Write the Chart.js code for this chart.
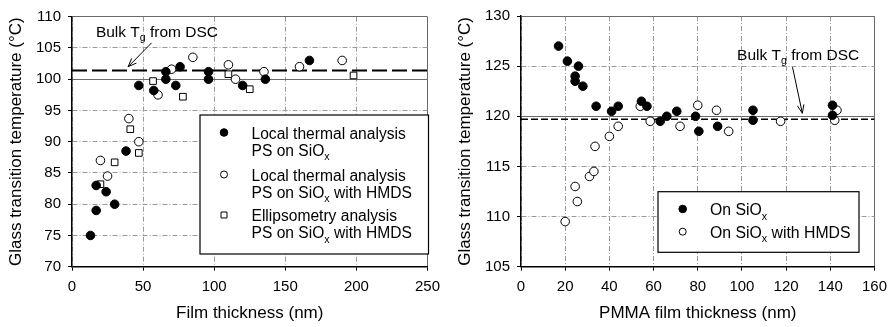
<!DOCTYPE html>
<html>
<head>
<meta charset="utf-8">
<script src="https://cdn.jsdelivr.net/npm/chart.js@4.4.1/dist/chart.umd.min.js"></script>
<style>
  html, body { margin: 0; padding: 0; background: #fff; }
  #wrap { position: relative; width: 894px; height: 327px; }
  .panel { position: absolute; top: 0; width: 447px; height: 327px; }
</style>
</head>
<body>
<div id="wrap">
  <div class="panel" style="left:0"><canvas id="ps" width="447" height="327"></canvas></div>
  <div class="panel" style="left:447px"><canvas id="pmma" width="447" height="327"></canvas></div>
</div>
<script>
// ---- PS films: glass transition vs film thickness ----
const psLocalBareX = [13, 17, 17, 24, 30, 38, 47, 57.5, 66, 66, 73, 76, 96, 96, 120, 136, 167];
const psLocalBareY = [75, 79, 83, 82, 80, 88.5, 99, 98.2, 101.2, 100, 99, 102, 101.2, 100, 99, 100, 103];
const psLocalHmdsX = [20, 25, 40, 47, 60.5, 70, 85, 110, 115, 135, 160, 190];
const psLocalHmdsY = [87, 84.5, 93.7, 90, 97.5, 101.6, 103.5, 102.3, 100, 101.2, 102, 103];
const psEllipsX = [20, 30, 41, 47, 57, 78, 110, 125, 198];
const psEllipsY = [83.2, 86.7, 92, 88.2, 99.7, 97.2, 100.8, 98.4, 100.6];
const psBulkTg = 101.4;
const psXTicks = [0, 50, 100, 150, 200, 250];
const psYTicks = [70, 75, 80, 85, 90, 95, 100, 105, 110];

// ---- PMMA films: glass transition vs film thickness ----
const pmmaBareX = [17, 21, 24.5, 24.5, 26, 28, 34, 41, 44, 54.5, 57, 63, 66, 70.5, 79, 80.5, 89, 105, 105, 141, 141];
const pmmaBareY = [127, 125.5, 124, 123.5, 125, 123, 121, 120.5, 121, 121.5, 121, 119.5, 120, 120.5, 120, 118.5, 119, 120.6, 119.6, 121.1, 120.1];
const pmmaHmdsX = [20, 24.5, 25.5, 31, 33, 33.5, 40, 44, 54, 58.5, 72, 80, 88.5, 94, 117.5, 142, 143];
const pmmaHmdsY = [109.5, 113, 111.5, 114, 114.5, 117, 118, 119, 121, 119.5, 119, 121.1, 120.6, 118.5, 119.5, 119.6, 120.6];
const pmmaBulkTg = 119.7;
const pmmaXTicks = [0, 20, 40, 60, 80, 100, 120, 140, 160];
const pmmaYTicks = [105, 110, 115, 120, 125, 130];

const FONT = '"Liberation Sans", Arial, Helvetica, sans-serif';
const pts = (xs, ys) => xs.map((x, i) => ({ x: x, y: ys[i] }));

// text runs with optional subscripts, y = baseline
function drawRich(ctx, parts, x, y, size) {
  let cx = x;
  for (const p of parts) {
    const s = p.sub ? size * 0.68 : size;
    ctx.font = s + 'px ' + FONT;
    ctx.fillText(p.t, cx, p.sub ? y + size * 0.3 : y);
    cx += ctx.measureText(p.t).width;
  }
}

function drawMarker(ctx, style, filled, r, x, y) {
  ctx.beginPath();
  if (style === 'rect') {
    const s = Math.SQRT1_2 * r;
    ctx.rect(x - s, y - s, 2 * s, 2 * s);
  } else {
    ctx.arc(x, y, r, 0, Math.PI * 2);
  }
  ctx.fillStyle = filled ? '#000' : '#fff';
  ctx.fill();
  ctx.lineWidth = 1;
  ctx.strokeStyle = '#000';
  ctx.stroke();
}

// annotation arrow + text and the framed legend
const panelNotes = {
  id: 'panelNotes',
  afterDraw(chart, args, o) {
    const ctx = chart.ctx, sx = chart.scales.x, sy = chart.scales.y;
    ctx.save();
    ctx.textAlign = 'left';
    ctx.textBaseline = 'alphabetic';
    ctx.fillStyle = '#000';
    const n = o.note;
    drawRich(ctx, n.parts, sx.getPixelForValue(n.x), sy.getPixelForValue(n.y), n.size);
    const x1 = sx.getPixelForValue(n.from[0]), y1 = sy.getPixelForValue(n.from[1]);
    const x2 = sx.getPixelForValue(n.to[0]), y2 = sy.getPixelForValue(n.to[1]);
    const a = Math.atan2(y2 - y1, x2 - x1), L = 9, w = 0.38;
    ctx.strokeStyle = '#000';
    ctx.lineWidth = 1;
    ctx.beginPath();
    ctx.moveTo(x1, y1); ctx.lineTo(x2, y2);
    ctx.moveTo(x2 - L * Math.cos(a - w), y2 - L * Math.sin(a - w));
    ctx.lineTo(x2, y2);
    ctx.lineTo(x2 - L * Math.cos(a + w), y2 - L * Math.sin(a + w));
    ctx.stroke();

    const lg = o.legend;
    const [bx0, by0, bx1, by1] = lg.box;
    ctx.fillStyle = '#fff';
    ctx.fillRect(bx0, by0, bx1 - bx0, by1 - by0);
    ctx.strokeStyle = '#000';
    ctx.lineWidth = 1.2;
    ctx.strokeRect(bx0, by0, bx1 - bx0, by1 - by0);
    for (const it of lg.items) {
      drawMarker(ctx, it.style, it.filled, it.r, lg.markerX, it.y - 6);
      ctx.fillStyle = '#000';
      it.lines.forEach((ln, k) => drawRich(ctx, ln, lg.textX, it.y + k * lg.lineGap, lg.size));
    }
    ctx.restore();
  }
};

function axisOptions(min, max, ticks, title, size, titlePad, solidAt, axisName) {
  const dashDot = [5, 2, 1, 2];
  return {
    type: 'linear',
    min: min, max: max,
    afterBuildTicks: s => { s.ticks = ticks.map(v => ({ value: v })); },
    afterFit: s => { if (axisName === 'x') s.height = size; else s.width = size; },
    ticks: { color: '#000', font: { family: FONT, size: 15 }, padding: 7 },
    grid: {
      color: c => (c.tick && solidAt.includes(c.tick.value)) ? '#6a6a6a' : '#9a9a9a',
      lineWidth: 1,
      tickColor: '#000',
      tickLength: 4,
      drawTicks: true
    },
    border: {
      display: true, color: '#000', width: 1.5,
      dash: c => (c.tick && solidAt.includes(c.tick.value)) ? [] : dashDot
    },
    title: {
      display: true, text: title, color: '#000',
      font: { family: FONT, size: 17 },
      padding: titlePad
    }
  };
}

const common = {
  responsive: false,
  animation: false,
  events: [],
  plugins: { legend: { display: false }, tooltip: { enabled: false } }
};

const subX = [{ t: 'PS on SiO' }, { t: 'x', sub: true }];

new Chart(document.getElementById('ps'), {
  type: 'scatter',
  data: {
    datasets: [
      { data: pts(psLocalBareX, psLocalBareY), pointStyle: 'circle', pointRadius: 4.3, backgroundColor: '#000', borderColor: '#000', borderWidth: 1 },
      { data: pts(psLocalHmdsX, psLocalHmdsY), pointStyle: 'circle', pointRadius: 4.3, backgroundColor: '#fff', borderColor: '#000', borderWidth: 1 },
      { data: pts(psEllipsX, psEllipsY), pointStyle: 'rect', pointRadius: 4.7, backgroundColor: '#fff', borderColor: '#000', borderWidth: 1 },
      { type: 'line', data: [{ x: psXTicks[0], y: psBulkTg }, { x: psXTicks[psXTicks.length - 1], y: psBulkTg }],
        borderColor: '#000', borderWidth: 2, borderDash: [15, 5], pointRadius: 0, fill: false }
    ]
  },
  options: Object.assign({}, common, {
    layout: { padding: { top: 16.7, right: 18.5, left: 0, bottom: 0 } },
    scales: {
      x: axisOptions(0, 250, psXTicks, 'Film thickness (nm)', 60.3, { top: 0, bottom: 3 }, [250], 'x'),
      y: axisOptions(70, 110, psYTicks, 'Glass transition temperature (°C)', 72, { top: 6, bottom: 0 }, [100, 110], 'y')
    },
    plugins: Object.assign({}, common.plugins, {
      panelNotes: {
        note: {
          parts: [{ t: 'Bulk T' }, { t: 'g', sub: true }, { t: ' from DSC' }],
          size: 15.5, x: 16.8, y: 106.8, from: [55.9, 105.8], to: [39.5, 102.0]
        },
        legend: {
          box: [200, 115, 428.5, 254], markerX: 224, textX: 251.5, size: 15.6, lineGap: 17.2,
          items: [
            { style: 'circle', filled: true, r: 3.8, y: 138.5, lines: [[{ t: 'Local thermal analysis' }], subX] },
            { style: 'circle', filled: false, r: 3.5, y: 180.5, lines: [[{ t: 'Local thermal analysis' }], subX.concat([{ t: ' with HMDS' }])] },
            { style: 'rect', filled: false, r: 4.2, y: 221, lines: [[{ t: 'Ellipsometry analysis' }], subX.concat([{ t: ' with HMDS' }])] }
          ]
        }
      }
    })
  }),
  plugins: [panelNotes]
});

new Chart(document.getElementById('pmma'), {
  type: 'scatter',
  data: {
    datasets: [
      { data: pts(pmmaBareX, pmmaBareY), pointStyle: 'circle', pointRadius: 4.3, backgroundColor: '#000', borderColor: '#000', borderWidth: 1 },
      { data: pts(pmmaHmdsX, pmmaHmdsY), pointStyle: 'circle', pointRadius: 4.3, backgroundColor: '#fff', borderColor: '#000', borderWidth: 1 },
      { type: 'line', data: [{ x: pmmaXTicks[0], y: pmmaBulkTg }, { x: pmmaXTicks[pmmaXTicks.length - 1], y: pmmaBulkTg }],
        borderColor: '#000', borderWidth: 1.5, borderDash: [7, 3], pointRadius: 0, fill: false }
    ]
  },
  options: Object.assign({}, common, {
    layout: { padding: { top: 15.7, right: 16, left: 0, bottom: 0 } },
    scales: {
      x: axisOptions(0, 160, pmmaXTicks, 'PMMA film thickness (nm)', 60.3, { top: 0, bottom: 3 }, [160], 'x'),
      y: axisOptions(105, 130, pmmaYTicks, 'Glass transition temperature (°C)', 74, { top: 8, bottom: 0 }, [120, 130], 'y')
    },
    plugins: Object.assign({}, common.plugins, {
      panelNotes: {
        note: {
          parts: [{ t: 'Bulk T' }, { t: 'g', sub: true }, { t: ' from DSC' }],
          size: 15.5, x: 97.8, y: 125.66, from: [122.9, 124.9], to: [127.35, 120.3]
        },
        legend: {
          box: [211, 191.7, 412, 252.3], markerX: 235.7, textX: 263, size: 15.8, lineGap: 0,
          items: [
            { style: 'circle', filled: true, r: 3.8, y: 215, lines: [[{ t: 'On SiO' }, { t: 'x', sub: true }]] },
            { style: 'circle', filled: false, r: 3.5, y: 237.7, lines: [[{ t: 'On SiO' }, { t: 'x', sub: true }, { t: ' with HMDS' }]] }
          ]
        }
      }
    })
  }),
  plugins: [panelNotes]
});
</script>
</body>
</html>
